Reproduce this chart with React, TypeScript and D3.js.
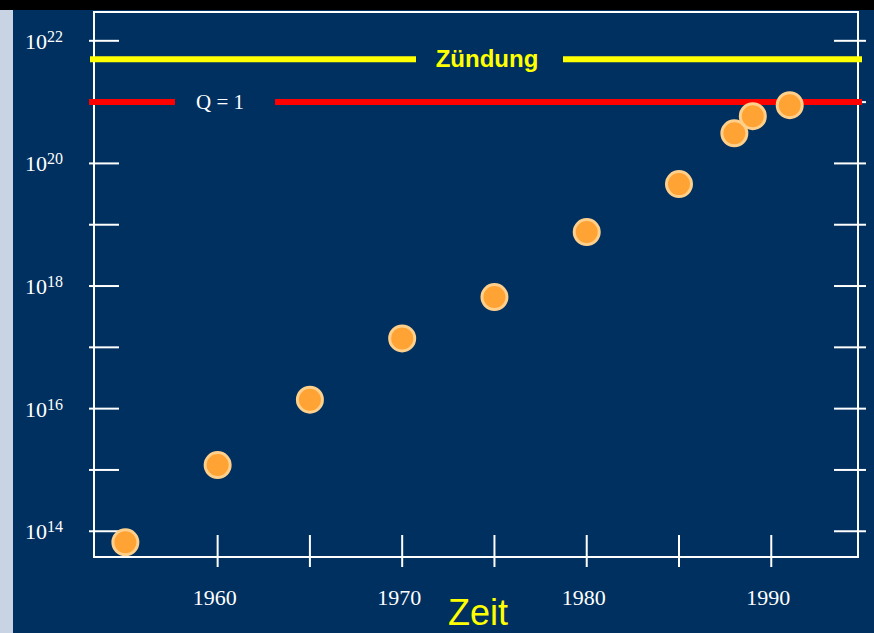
import React from "react";
import * as d3 from "d3";

// ---- data ----
const years = [1955, 1960, 1965, 1970, 1975, 1980, 1985, 1988, 1989, 1991];
const values = [6.6e13, 1.2e15, 1.4e16, 1.4e17, 6.6e17, 7.6e18, 4.6e19, 3.1e20, 5.9e20, 8.9e20];
const xTicks = [1960, 1965, 1970, 1975, 1980, 1985, 1990];
const xTickLabels = [1960, 1970, 1980, 1990];
const yTickExps = [14, 15, 16, 17, 18, 19, 20, 21, 22];
const yLabelExps = [14, 16, 18, 20, 22];
const ignitionValue = 5e21;
const ignitionLabel = "Zündung";
const breakevenValue = 1e21;
const breakevenLabel = "Q = 1";
const xAxisTitle = "Zeit";

const W = 874;
const H = 633;
const frame = { left: 94, right: 858, top: 12, bottom: 557 };

export default function App() {
  const x = d3.scaleLinear().domain([1953.3, 1994.7]).range([frame.left, frame.right]);
  const y = d3
    .scaleLog()
    .domain([Math.pow(10, 13.58), Math.pow(10, 22.47)])
    .range([frame.bottom, frame.top]);

  const navy = "#00305f";
  const serif = "'Liberation Serif', 'Times New Roman', serif";
  const sans = "'Liberation Sans', Arial, sans-serif";

  const yIgn = y(ignitionValue);
  const yQ = y(breakevenValue);

  return (
    <svg
      width={W}
      height={H}
      style={{ position: "absolute", left: 0, top: 0, display: "block" }}
    >
      <rect x={0} y={0} width={W} height={H} fill={navy} />
      <rect x={0} y={0} width={W} height={10} fill="#000000" />
      <rect x={0} y={10} width={13} height={H - 10} fill="#c8d3e3" />

      {/* frame */}
      <rect
        x={frame.left}
        y={frame.top}
        width={frame.right - frame.left}
        height={frame.bottom - frame.top}
        fill="none"
        stroke="#ffffff"
        strokeWidth={2}
      />

      {/* y ticks */}
      {yTickExps.map((e) => {
        const yy = y(Math.pow(10, e));
        return (
          <g key={"yt" + e}>
            <line x1={frame.left - 5} x2={frame.left + 25} y1={yy} y2={yy} stroke="#fff" strokeWidth={2} />
            <line x1={frame.right - 24} x2={frame.right + 8} y1={yy} y2={yy} stroke="#fff" strokeWidth={2} />
          </g>
        );
      })}
      {yLabelExps.map((e) => {
        const yy = y(Math.pow(10, e));
        return (
          <text key={"yl" + e} x={25} y={yy + 8} fill="#fff" fontFamily={serif} fontSize={22}>
            10
            <tspan fontSize={16} dy={-7}>
              {e}
            </tspan>
          </text>
        );
      })}

      {/* x ticks */}
      {xTicks.map((t) => (
        <line
          key={"xt" + t}
          x1={x(t)}
          x2={x(t)}
          y1={frame.bottom - 22}
          y2={frame.bottom + 10}
          stroke="#fff"
          strokeWidth={2}
        />
      ))}
      {xTickLabels.map((t) => (
        <text
          key={"xl" + t}
          x={x(t) - 3}
          y={605}
          fill="#fff"
          fontFamily={serif}
          fontSize={22}
          textAnchor="middle"
        >
          {t}
        </text>
      ))}
      <text x={478} y={625} fill="#ffff00" fontFamily={sans} fontSize={36} textAnchor="middle">
        {xAxisTitle}
      </text>

      {/* ignition line */}
      <line x1={frame.left - 4} x2={416} y1={yIgn} y2={yIgn} stroke="#ffff00" strokeWidth={6} />
      <line x1={563} x2={frame.right + 4} y1={yIgn} y2={yIgn} stroke="#ffff00" strokeWidth={6} />
      <text
        x={487}
        y={yIgn + 8}
        fill="#ffff00"
        fontFamily={sans}
        fontWeight="bold"
        fontSize={24}
        textAnchor="middle"
      >
        {ignitionLabel}
      </text>

      {/* Q = 1 line */}
      <line x1={frame.left - 5} x2={175} y1={yQ} y2={yQ} stroke="#ff0000" strokeWidth={6} />
      <line x1={275} x2={frame.right + 4} y1={yQ} y2={yQ} stroke="#ff0000" strokeWidth={6} />
      <text x={220} y={yQ + 7} fill="#fff" fontFamily={serif} fontSize={21} textAnchor="middle">
        {breakevenLabel}
      </text>

      {/* points */}
      {years.map((yr, i) => (
        <circle
          key={"p" + yr}
          cx={x(yr)}
          cy={y(values[i])}
          r={12.5}
          fill="#ffa335"
          stroke="#ffd08c"
          strokeWidth={3}
        />
      ))}
    </svg>
  );
}
